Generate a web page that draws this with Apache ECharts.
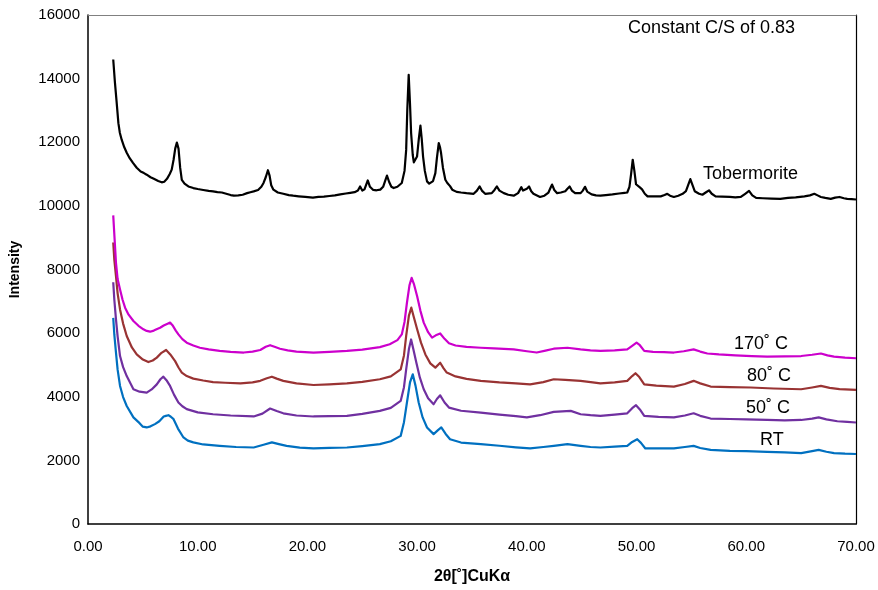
<!DOCTYPE html>
<html>
<head>
<meta charset="utf-8">
<script src="https://cdn.jsdelivr.net/npm/echarts@6/dist/echarts.min.js"></script>
<style>
  html, body { margin: 0; padding: 0; background: #fff; }
  #chart { width: 878px; height: 590px; }
</style>
</head>
<body>
<div id="chart"></div>
<script>
// XRD patterns: [2θ (deg), intensity (counts)]
const tobermorite = [[2.3,14600],[2.45,13900],[2.6,13300],[2.77,12600],[2.9,12300],[3.07,12080],[3.3,11850],[3.53,11670],[3.8,11500],[4.1,11350],[4.44,11200],[4.8,11080],[5.1,11030],[5.35,10980],[5.7,10900],[6.0,10850],[6.4,10780],[6.72,10740],[6.95,10760],[7.2,10850],[7.45,11000],[7.63,11140],[7.8,11450],[7.95,11800],[8.1,11990],[8.25,11800],[8.4,11200],[8.55,10820],[8.8,10700],[9.15,10610],[9.6,10560],[10.0,10530],[10.5,10500],[11.0,10470],[11.4,10455],[11.8,10430],[12.2,10420],[12.6,10380],[13.0,10340],[13.3,10320],[13.7,10330],[14.1,10350],[14.5,10400],[14.8,10430],[15.1,10455],[15.5,10500],[15.8,10600],[16.0,10720],[16.2,10900],[16.4,11120],[16.55,10950],[16.7,10650],[16.9,10510],[17.3,10420],[17.8,10380],[18.3,10340],[18.7,10320],[19.2,10300],[19.8,10280],[20.5,10260],[21.0,10280],[21.5,10290],[22.0,10310],[22.5,10330],[23.0,10360],[23.5,10390],[23.9,10410],[24.3,10430],[24.6,10480],[24.8,10610],[25.0,10480],[25.2,10520],[25.5,10800],[25.7,10600],[26.0,10500],[26.3,10490],[26.64,10510],[26.9,10600],[27.1,10800],[27.25,10950],[27.45,10750],[27.65,10600],[27.86,10560],[28.2,10600],[28.6,10720],[28.85,11100],[29.0,11760],[29.1,13000],[29.23,14120],[29.35,13200],[29.45,12290],[29.6,11600],[29.7,11370],[29.85,11420],[29.99,11550],[30.15,12100],[30.3,12520],[30.42,12100],[30.54,11550],[30.7,11100],[30.9,10770],[31.1,10700],[31.27,10670],[31.45,10780],[31.66,11030],[31.8,11500],[31.97,11970],[32.08,11850],[32.18,11660],[32.35,11200],[32.57,10820],[32.75,10720],[32.88,10730],[33.0,10620],[33.2,10510],[33.6,10440],[34.0,10420],[34.5,10400],[35.15,10380],[35.45,10480],[35.7,10610],[35.9,10480],[36.2,10380],[36.8,10400],[37.05,10500],[37.27,10610],[37.5,10480],[37.9,10400],[38.3,10350],[38.8,10320],[39.2,10400],[39.5,10590],[39.65,10480],[39.8,10460],[40.0,10540],[40.2,10610],[40.4,10460],[40.6,10380],[41.2,10280],[41.6,10320],[41.97,10420],[42.15,10560],[42.3,10670],[42.5,10500],[42.76,10400],[43.1,10420],[43.5,10460],[43.7,10540],[43.9,10610],[44.1,10480],[44.4,10400],[44.9,10400],[45.1,10480],[45.3,10600],[45.5,10450],[45.9,10360],[46.3,10330],[46.7,10320],[47.2,10340],[47.8,10360],[48.4,10390],[48.9,10410],[49.15,10420],[49.35,10600],[49.5,11000],[49.65,11450],[49.8,11100],[49.95,10680],[50.1,10620],[50.3,10580],[50.5,10520],[50.75,10380],[51.0,10300],[51.6,10300],[52.2,10300],[52.55,10340],[52.8,10380],[53.05,10320],[53.4,10280],[53.8,10320],[54.2,10380],[54.5,10460],[54.7,10650],[54.9,10840],[55.05,10700],[55.3,10460],[55.7,10380],[56.0,10350],[56.3,10420],[56.6,10490],[56.85,10380],[57.2,10300],[57.8,10290],[58.5,10280],[59.0,10270],[59.5,10280],[59.9,10380],[60.25,10470],[60.55,10330],[60.9,10250],[61.5,10240],[62.3,10230],[63.1,10220],[63.8,10250],[64.5,10270],[65.3,10300],[65.8,10330],[66.2,10380],[66.5,10330],[66.8,10280],[67.2,10250],[67.7,10220],[68.1,10260],[68.5,10280],[68.9,10240],[69.2,10220],[69.6,10210],[70,10200]];

const c170 = [[2.3,9700],[2.4,9100],[2.55,8210],[2.7,7700],[2.92,7370],[3.15,7050],[3.38,6800],[3.7,6580],[4.14,6380],[4.6,6230],[5.05,6120],[5.35,6070],[5.66,6045],[6.0,6080],[6.3,6130],[6.57,6170],[6.9,6240],[7.2,6290],[7.48,6330],[7.7,6250],[8.0,6080],[8.24,5960],[8.6,5810],[9.0,5700],[9.6,5610],[10.2,5540],[11.0,5490],[12.0,5440],[13.0,5410],[14.2,5390],[15.0,5420],[15.7,5470],[16.2,5570],[16.6,5620],[17.0,5570],[17.5,5510],[18.2,5460],[19.0,5420],[20.55,5390],[22.0,5410],[23.6,5440],[25.0,5480],[26.6,5560],[27.5,5650],[28.2,5780],[28.6,5960],[28.85,6350],[29.07,6955],[29.3,7500],[29.5,7740],[29.7,7550],[30.0,7160],[30.3,6700],[30.6,6330],[31.0,6030],[31.36,5860],[31.7,5930],[32.1,5990],[32.5,5820],[32.9,5680],[33.5,5610],[34.5,5570],[35.8,5540],[37.0,5520],[38.8,5490],[40.0,5430],[40.9,5390],[41.7,5450],[42.45,5510],[43.7,5540],[44.9,5490],[45.8,5460],[46.7,5440],[48.0,5460],[49.15,5490],[49.6,5600],[50.0,5700],[50.3,5620],[50.7,5440],[51.5,5410],[52.5,5400],[53.4,5390],[54.3,5430],[55.2,5490],[55.8,5420],[56.45,5360],[57.5,5330],[59.0,5300],[60.5,5280],[61.9,5260],[63.5,5270],[65.0,5280],[66.0,5320],[66.8,5360],[67.4,5300],[68.0,5260],[69.0,5230],[70,5210]];

const c80 = [[2.3,8850],[2.4,8300],[2.55,7790],[2.7,7250],[2.92,6745],[3.2,6300],[3.53,5910],[4.0,5550],[4.44,5330],[5.0,5170],[5.5,5090],[5.9,5140],[6.27,5230],[6.7,5380],[7.12,5470],[7.5,5330],[7.94,5120],[8.25,4920],[8.55,4760],[9.0,4650],[9.6,4570],[10.5,4510],[11.4,4460],[12.5,4440],[13.9,4420],[15.0,4450],[15.7,4500],[16.3,4580],[16.76,4630],[17.2,4570],[17.8,4500],[19.0,4420],[20.55,4370],[22.0,4390],[23.6,4420],[25.0,4470],[26.6,4550],[27.6,4640],[28.5,4860],[28.8,5300],[29.0,5910],[29.25,6550],[29.47,6800],[29.7,6500],[30.0,6120],[30.35,5700],[30.75,5330],[31.2,5050],[31.66,4915],[31.9,5000],[32.1,5070],[32.4,4900],[32.7,4760],[33.5,4640],[34.5,4560],[35.8,4500],[37.5,4450],[39.0,4420],[40.3,4390],[41.5,4460],[42.45,4550],[43.5,4530],[44.9,4500],[46.0,4450],[46.7,4420],[48.0,4450],[49.15,4500],[49.6,4650],[49.9,4740],[50.25,4620],[50.7,4390],[51.8,4350],[53.4,4320],[54.4,4400],[55.2,4500],[55.8,4420],[56.75,4320],[58.5,4300],[60.4,4290],[62.5,4260],[65.0,4235],[66.0,4290],[66.8,4340],[67.6,4280],[68.5,4240],[70,4215]];

const c50 = [[2.3,7600],[2.4,7050],[2.55,6430],[2.7,5900],[2.92,5280],[3.2,4930],[3.53,4650],[4.14,4235],[4.7,4160],[5.35,4130],[5.8,4230],[6.27,4390],[6.6,4550],[6.87,4630],[7.15,4520],[7.48,4340],[7.85,4060],[8.24,3820],[8.6,3700],[9.0,3610],[10.0,3510],[11.4,3450],[13.0,3410],[15.1,3380],[15.9,3470],[16.6,3630],[17.2,3550],[17.8,3480],[19.0,3410],[20.55,3380],[22.0,3390],[23.6,3400],[25.0,3460],[26.6,3555],[27.6,3650],[28.5,3870],[28.8,4300],[29.0,4860],[29.25,5500],[29.45,5800],[29.65,5500],[29.93,5070],[30.25,4600],[30.6,4235],[31.0,3950],[31.5,3765],[31.8,3930],[32.1,4045],[32.5,3820],[32.9,3660],[34.0,3560],[35.8,3500],[37.5,3440],[39.0,3390],[40.0,3350],[41.2,3420],[42.45,3525],[44.0,3555],[44.9,3450],[45.8,3420],[46.7,3400],[48.0,3440],[49.15,3480],[49.6,3640],[49.95,3735],[50.3,3600],[50.7,3400],[52.0,3370],[53.4,3350],[54.4,3410],[55.2,3480],[55.8,3400],[56.75,3315],[58.5,3300],[60.0,3290],[61.9,3270],[63.5,3260],[65.0,3270],[66.0,3310],[66.6,3350],[67.3,3290],[68.3,3230],[69.2,3210],[70,3190]];

const cRT = [[2.3,6480],[2.4,5950],[2.55,5390],[2.7,4850],[2.92,4340],[3.2,3990],[3.53,3710],[4.14,3350],[4.7,3170],[5.0,3060],[5.35,3035],[5.7,3070],[6.1,3140],[6.5,3230],[6.9,3380],[7.1,3400],[7.33,3420],[7.55,3370],[7.8,3295],[8.2,3000],[8.7,2720],[9.1,2620],[9.6,2565],[10.5,2500],[12.0,2455],[13.5,2420],[15.1,2405],[16.0,2490],[16.76,2565],[17.4,2510],[18.1,2455],[19.3,2400],[20.55,2375],[22.0,2390],[23.6,2405],[25.0,2450],[26.6,2510],[27.6,2600],[28.5,2770],[28.8,3200],[29.07,3820],[29.35,4450],[29.6,4705],[29.85,4350],[30.14,3820],[30.5,3350],[30.9,3035],[31.5,2825],[31.9,2950],[32.2,3035],[32.6,2830],[33.0,2665],[34.0,2560],[35.8,2510],[37.5,2460],[39.0,2410],[40.3,2375],[41.5,2420],[42.45,2455],[43.7,2510],[44.9,2455],[45.8,2420],[46.7,2405],[48.0,2430],[49.15,2455],[49.6,2580],[50.06,2665],[50.4,2550],[50.8,2375],[52.0,2380],[53.4,2375],[54.4,2420],[55.2,2455],[55.8,2390],[56.75,2330],[58.5,2300],[60.0,2290],[61.9,2270],[63.5,2250],[65.0,2230],[66.0,2290],[66.6,2330],[67.3,2270],[68.0,2230],[69.0,2210],[70,2200]];

const seriesNames = ['Tobermorite', '170˚ C', '80˚ C', '50˚ C', 'RT'];
const seriesData = [tobermorite, c170, c80, c50, cRT];
const seriesColors = ['#000000', '#CC00CC', '#993333', '#7030A0', '#0070C0'];

const FONT = 'Liberation Sans, Arial, sans-serif';

const chart = echarts.init(document.getElementById('chart'), null, { renderer: 'canvas' });

const hiddenAxisParts = {
  axisTick: { show: false },
  axisLabel: { show: false },
  splitLine: { show: false }
};

chart.setOption({
  animation: false,
  backgroundColor: '#fff',
  grid: { left: 88, right: 22, top: 15, bottom: 65 },
  xAxis: [{
    type: 'value', min: 0, max: 70, interval: 10,
    name: '2θ[˚]CuKα', nameLocation: 'middle', nameGap: 45,
    nameTextStyle: { fontFamily: FONT, fontSize: 16, fontWeight: 'bold', color: '#000' },
    axisLine: { show: true, lineStyle: { color: '#000', width: 1.5 } },
    axisTick: { show: false },
    splitLine: { show: false },
    axisLabel: { fontFamily: FONT, fontSize: 15, color: '#000', margin: 15, formatter: v => v.toFixed(2) }
  }, Object.assign({
    type: 'value', min: 0, max: 70, position: 'top',
    axisLine: { show: true, onZero: false, lineStyle: { color: '#808080', width: 1.2 } }
  }, hiddenAxisParts)],
  yAxis: [{
    type: 'value', min: 0, max: 16000, interval: 2000,
    name: 'Intensity', nameLocation: 'middle', nameGap: 66,
    nameTextStyle: { fontFamily: FONT, fontSize: 14, fontWeight: 'bold', color: '#000' },
    axisLine: { show: true, lineStyle: { color: '#000', width: 1.5 } },
    axisTick: { show: false },
    splitLine: { show: false },
    axisLabel: { fontFamily: FONT, fontSize: 15, color: '#000', margin: 8, formatter: v => String(v) }
  }, Object.assign({
    type: 'value', min: 0, max: 16000, position: 'right',
    axisLine: { show: true, onZero: false, lineStyle: { color: '#000', width: 1.2 } }
  }, hiddenAxisParts)],
  series: seriesData.map((d, i) => ({
    name: seriesNames[i],
    type: 'line',
    data: d,
    showSymbol: false,
    lineStyle: { color: seriesColors[i], width: 2.2, join: 'round' },
    z: 10 - i
  })),
  graphic: [
    { type: 'text', left: 628, top: 19, style: { text: 'Constant C/S of 0.83', font: '18px ' + FONT, fill: '#000' } },
    { type: 'text', left: 703, top: 165, style: { text: 'Tobermorite', font: '18px ' + FONT, fill: '#000' } },
    { type: 'text', left: 734, top: 335, style: { text: '170˚ C', font: '18px ' + FONT, fill: '#000' } },
    { type: 'text', left: 747, top: 367, style: { text: '80˚ C', font: '18px ' + FONT, fill: '#000' } },
    { type: 'text', left: 746, top: 399, style: { text: '50˚ C', font: '18px ' + FONT, fill: '#000' } },
    { type: 'text', left: 760, top: 431, style: { text: 'RT', font: '18px ' + FONT, fill: '#000' } }
  ]
});
</script>
</body>
</html>
